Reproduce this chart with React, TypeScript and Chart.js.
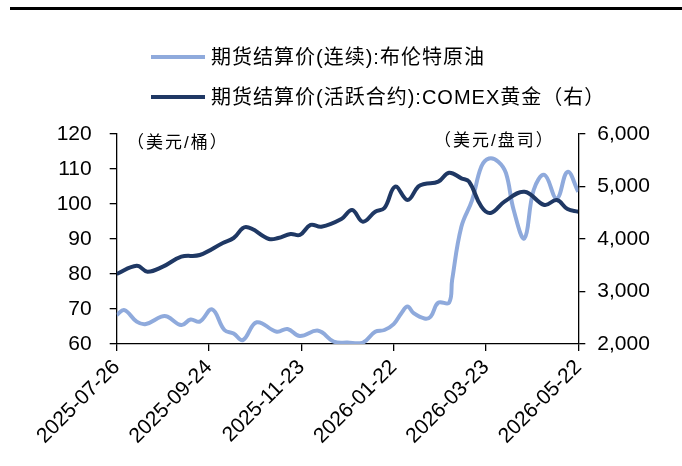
import React, { useEffect, useRef } from "react";
import { Chart, registerables } from "chart.js";

Chart.register(...registerables);

const startDate = "2025-07-26";
const xTickDates = ["2025-07-26", "2025-09-24", "2025-11-23", "2026-01-22", "2026-03-23", "2026-05-22"];

const brentDates = [
  "2025-07-26", "2025-07-31", "2025-08-08", "2025-08-14", "2025-08-24", "2025-08-28",
  "2025-09-06", "2025-09-12", "2025-09-18", "2025-09-26", "2025-10-04", "2025-10-10",
  "2025-10-16", "2025-10-25", "2025-11-07", "2025-11-14", "2025-11-22", "2025-12-04",
  "2025-12-14", "2025-12-23", "2026-01-02", "2026-01-10", "2026-01-16", "2026-01-22",
  "2026-01-27", "2026-01-31", "2026-02-04", "2026-02-11", "2026-02-15", "2026-02-20",
  "2026-02-27", "2026-03-01", "2026-03-07", "2026-03-14", "2026-03-20", "2026-03-25",
  "2026-03-31", "2026-04-05", "2026-04-10", "2026-04-17", "2026-04-23", "2026-04-30",
  "2026-05-08", "2026-05-15", "2026-05-22",
];
const brentValues = [
  68.3, 69.7, 66.4, 65.7, 67.8, 67.8,
  65.4, 67.0, 66.4, 69.9, 64.0, 63.0,
  61.1, 66.2, 63.5, 64.3, 62.3, 63.8,
  60.7, 60.4, 60.4, 63.5, 64.0, 65.7,
  68.8, 70.7, 68.8, 67.3, 67.8, 71.8,
  71.8, 78.3, 93.5, 101.1, 110.7, 113.0,
  112.1, 108.8, 98.3, 90.2, 104.0, 108.3,
  101.6, 109.2, 103.5,
];

const goldDates = [
  "2025-07-26", "2025-08-08", "2025-08-15", "2025-08-25", "2025-09-06", "2025-09-18",
  "2025-10-03", "2025-10-10", "2025-10-18", "2025-11-02", "2025-11-08", "2025-11-16",
  "2025-11-22", "2025-11-29", "2025-12-06", "2025-12-19", "2025-12-26", "2026-01-02",
  "2026-01-10", "2026-01-16", "2026-01-23", "2026-01-31", "2026-02-07", "2026-02-11",
  "2026-02-20", "2026-02-27", "2026-03-07", "2026-03-12", "2026-03-20", "2026-03-26",
  "2026-04-04", "2026-04-17", "2026-04-30", "2026-05-08", "2026-05-15", "2026-05-22",
];
const goldValues = [
  3333, 3491, 3377, 3473, 3663, 3695,
  3924, 4019, 4229, 4000, 4019, 4095,
  4076, 4267, 4234, 4381, 4552, 4330,
  4520, 4590, 4996, 4743, 5000, 5048,
  5092, 5263, 5156, 5092, 4616, 4495,
  4711, 4901, 4648, 4743, 4571, 4520,
];

const seriesNames = ["期货结算价(连续):布伦特原油", "期货结算价(活跃合约):COMEX黄金（右）"];
const seriesColors = ["#8FAADC", "#1F3864"];
const leftUnit = "（美元/桶）";
const rightUnit = "（美元/盘司）";

const leftMin = 60, leftMax = 120, leftStep = 10;
const rightMin = 2000, rightMax = 6000, rightStep = 1000;

function dayOf(s: string): number {
  const [y, m, d] = s.split("-").map(Number);
  const [y0, m0, d0] = startDate.split("-").map(Number);
  return Math.round((Date.UTC(y, m - 1, d) - Date.UTC(y0, m0 - 1, d0)) / 86400000);
}

const FONT = '"Liberation Sans", Arial, "Noto Sans CJK SC", sans-serif';
const CJK_FONT = '"Liberation Sans", "Noto Sans CJK SC", sans-serif';

const decorPlugin = {
  id: "decor",
  afterDraw(chart: any) {
    const ctx = chart.ctx;
    ctx.save();
    // top rule
    ctx.fillStyle = "#000";
    ctx.fillRect(10, 7, 672, 3);
    // legend
    const rows = [57, 97];
    seriesNames.forEach((name, i) => {
      ctx.strokeStyle = seriesColors[i];
      ctx.lineWidth = 4;
      ctx.beginPath();
      ctx.moveTo(151, rows[i]);
      ctx.lineTo(205, rows[i]);
      ctx.stroke();
      ctx.fillStyle = "#000";
      ctx.font = `20px ${CJK_FONT}`;
      (ctx as any).letterSpacing = "1px";
      ctx.textAlign = "left";
      ctx.textBaseline = "middle";
      ctx.fillText(name, 211, rows[i] + 1);
    });
    // unit labels
    ctx.font = `17px ${CJK_FONT}`;
    ctx.textBaseline = "middle";
    ctx.textAlign = "left";
    (ctx as any).letterSpacing = "2px";
    ctx.fillText(leftUnit, 127, 143);
    ctx.fillText(rightUnit, 434, 141);
    ctx.restore();
  },
};

export default function App() {
  const ref = useRef<HTMLCanvasElement>(null);
  useEffect(() => {
    document.body.style.margin = "0";
    const canvas = ref.current!;
    const chart = new Chart(canvas, {
      type: "line",
      data: {
        datasets: [
          {
            label: seriesNames[0],
            data: brentDates.map((d, i) => ({ x: dayOf(d), y: brentValues[i] })),
            borderColor: seriesColors[0],
            borderWidth: 4,
            pointRadius: 0,
            tension: 0.4,
            yAxisID: "y",
            order: 1,
          },
          {
            label: seriesNames[1],
            data: goldDates.map((d, i) => ({ x: dayOf(d), y: goldValues[i] })),
            borderColor: seriesColors[1],
            borderWidth: 4,
            pointRadius: 0,
            tension: 0.4,
            yAxisID: "y1",
            order: 0,
          },
        ],
      },
      options: {
        responsive: false,
        animation: false,
        layout: { padding: { top: 134, left: 0, right: 0, bottom: 0 } },
        plugins: { legend: { display: false }, tooltip: { enabled: false } },
        scales: {
          x: {
            type: "linear",
            min: dayOf(xTickDates[0]),
            max: dayOf(xTickDates[xTickDates.length - 1]),
            afterBuildTicks: (scale: any) => {
              scale.ticks = xTickDates.map((d) => ({ value: dayOf(d) }));
            },
            afterFit: (scale: any) => {
              scale.height = 122;
            },
            ticks: {
              autoSkip: false,
              maxRotation: 45,
              minRotation: 45,
              padding: 4,
              color: "#000",
              font: { family: FONT, size: 21 },
              callback: (_v: any, i: number) => xTickDates[i],
            },
            grid: { drawOnChartArea: false, drawTicks: true, tickLength: 7, color: "#000", lineWidth: 1.3 },
            border: { display: true, color: "#000", width: 1.3 },
          },
          y: {
            position: "left",
            min: leftMin,
            max: leftMax,
            afterFit: (scale: any) => {
              scale.width = 116.7;
            },
            ticks: {
              stepSize: leftStep,
              padding: 18,
              color: "#000",
              font: { family: FONT, size: 21 },
            },
            grid: { drawOnChartArea: false, drawTicks: true, tickLength: 7, color: "#000", lineWidth: 1.3 },
            border: { display: true, color: "#000", width: 1.3 },
          },
          y1: {
            position: "right",
            min: rightMin,
            max: rightMax,
            afterFit: (scale: any) => {
              scale.width = 682 - 578.3;
            },
            ticks: {
              stepSize: rightStep,
              padding: 12,
              color: "#000",
              font: { family: FONT, size: 21 },
              callback: (v: any) => Number(v).toLocaleString("en-US"),
            },
            grid: { drawOnChartArea: false, drawTicks: true, tickLength: 7, color: "#000", lineWidth: 1.3 },
            border: { display: true, color: "#000", width: 1.3 },
          },
        },
      },
      plugins: [decorPlugin],
    } as any);
    return () => chart.destroy();
  }, []);

  return (
    <div style={{ position: "absolute", left: 0, top: 0, width: 682, height: 466, background: "#fff" }}>
      <canvas ref={ref} width={682} height={466} style={{ width: 682, height: 466 }} />
    </div>
  );
}
